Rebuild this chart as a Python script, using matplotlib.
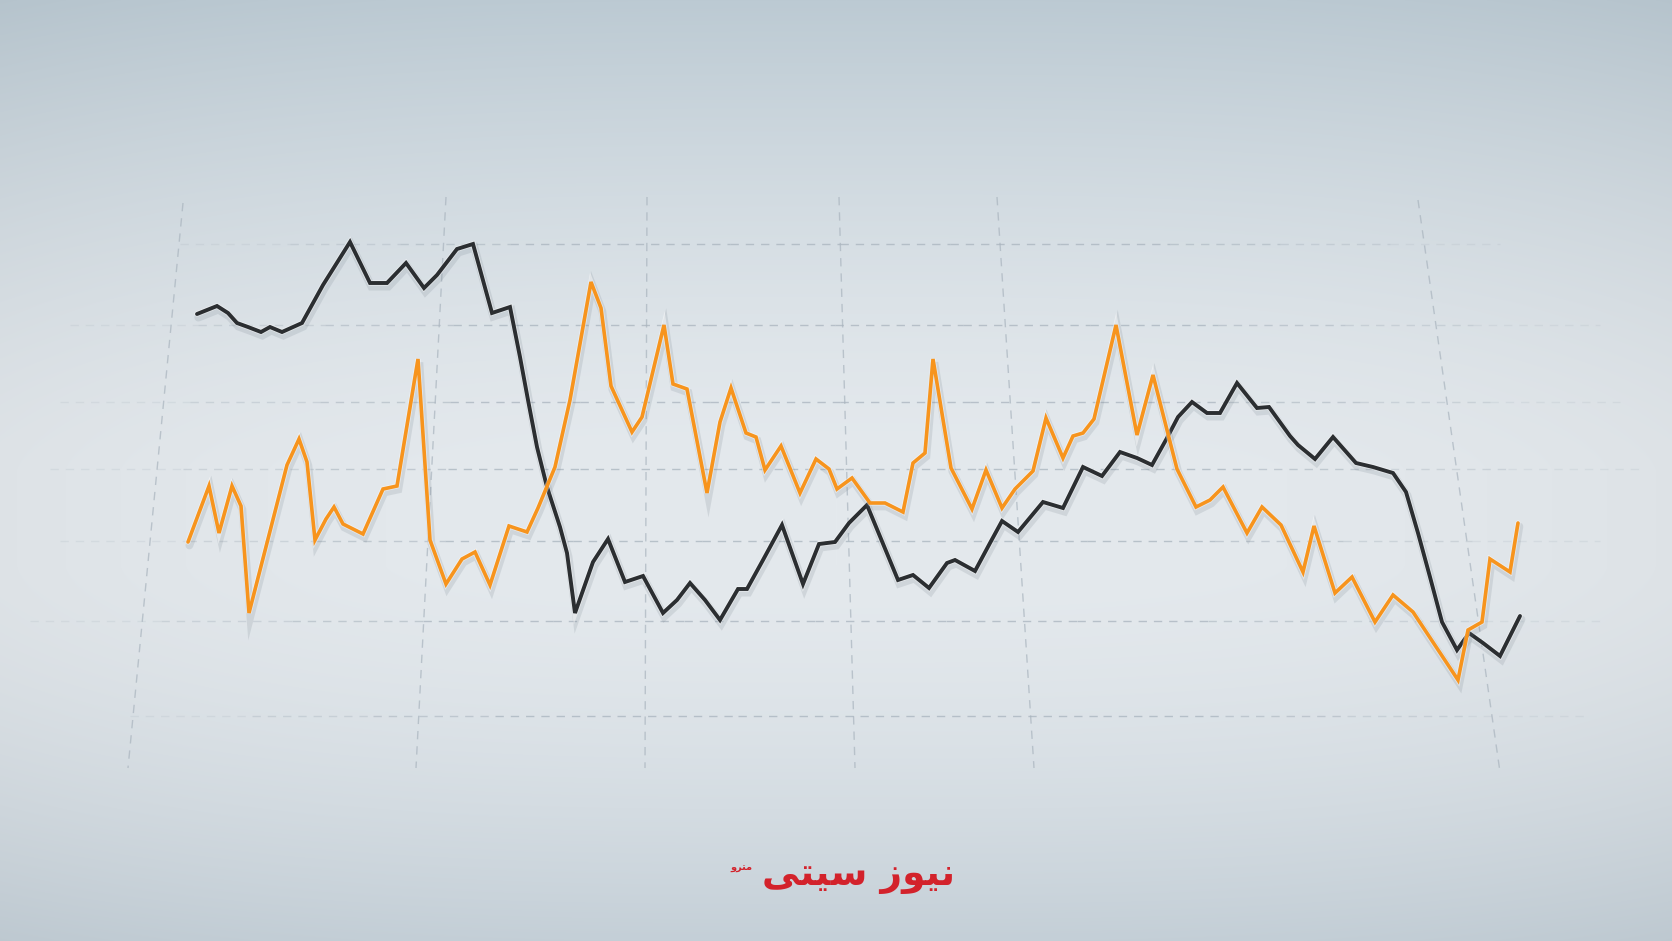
import numpy as np
import matplotlib
matplotlib.use("Agg")
import matplotlib.pyplot as plt
import matplotlib.patheffects as pe

# ---------------- data ----------------
black_x = [1.7, 3.7, 4.8, 5.7, 6.8, 8.1, 9.0, 10.2, 12.2, 14.3, 17.0, 19.0, 20.7, 22.6,
           24.4, 25.7, 27.7, 29.3, 31.2, 33.0, 34.0, 34.8, 35.7, 36.7, 38.0, 38.7, 39.5,
           41.3, 42.8, 44.5, 46.3, 48.3, 49.7, 51.0, 52.5, 54.0, 55.8, 56.7, 58.3, 60.2,
           62.3, 63.9, 65.5, 66.9, 68.7, 71.8, 73.3, 74.9, 76.7, 77.5, 79.5, 81.0, 82.2,
           83.8, 86.3, 88.3, 90.3, 92.2, 94.0, 95.7, 97.2, 98.7, 99.8, 101.2, 102.7,
           104.0, 105.7, 107.7, 108.9, 111.0, 111.8, 113.5, 115.3, 117.6, 119.3, 121.3,
           122.6, 123.8, 125.0, 126.2, 127.7, 128.9, 130.3, 132.0, 134.0]
black_y = [62.7, 63.5, 62.8, 61.8, 61.4, 60.9, 61.4, 60.9, 61.8, 65.6, 69.9, 65.8, 65.8, 67.8,
           65.3, 66.6, 69.2, 69.7, 62.8, 63.4, 58.4, 54.1, 49.4, 45.4, 41.4, 38.8, 32.8,
           37.9, 40.2, 35.9, 36.5, 32.8, 34.1, 35.8, 34.1, 32.1, 35.2, 35.2, 38.1, 41.6,
           35.7, 39.7, 39.9, 41.8, 43.6, 36.1, 36.6, 35.3, 37.8, 38.1, 37.0, 39.8, 42.0,
           40.9, 43.9, 43.3, 47.4, 46.5, 48.9, 48.3, 47.6, 50.3, 52.4, 53.9, 52.8,
           52.8, 55.8, 53.3, 53.4, 50.5, 49.6, 48.2, 50.4, 47.8, 47.4, 46.8,
           44.9, 40.8, 36.4, 31.9, 29.1, 30.8, 29.8, 28.5, 32.5]

orange_x = [0.8, 2.9, 3.9, 5.2, 6.1, 6.9, 10.7, 11.9, 12.7, 13.5, 14.6, 15.4, 16.3, 18.3,
            20.3, 21.7, 23.8, 25.0, 26.6, 28.2, 29.5, 31.0, 32.9, 34.7, 35.8, 37.5, 39.0,
            41.1, 42.1, 43.1, 45.2, 46.2, 48.4, 49.3, 50.7, 52.7, 54.0, 55.1, 56.6, 57.6,
            58.5, 60.1, 62.0, 63.6, 64.9, 65.7, 67.2, 69.0, 70.5, 72.3, 73.3, 74.5, 75.3,
            77.1, 79.2, 80.6, 82.2, 83.5, 85.3, 86.6, 88.3, 89.3, 90.3, 91.4, 93.6, 95.7,
            97.3, 98.7, 99.7, 101.6, 103.0, 104.3, 106.7, 108.2, 110.1, 112.3, 113.4,
            115.5, 117.2, 119.5, 121.3, 123.3, 127.8, 128.8, 130.2, 131.0, 133.0, 133.8]
orange_y = [39.9, 45.5, 40.8, 45.5, 43.5, 32.8, 47.6, 50.2, 47.9, 40.1, 42.2, 43.4, 41.7, 40.7,
            45.2, 45.5, 58.2, 40.1, 35.7, 38.2, 38.9, 35.6, 41.5, 40.9, 43.3, 47.4, 54.1,
            65.9, 63.3, 55.5, 50.9, 52.4, 61.6, 55.7, 55.2, 44.8, 51.9, 55.3, 50.8, 50.4,
            47.1, 49.5, 44.8, 48.2, 47.2, 45.2, 46.3, 43.8, 43.8, 42.9, 47.8, 48.8, 58.2,
            47.3, 43.2, 47.1, 43.3, 45.2, 47.0, 52.3, 48.3, 50.5, 50.8, 52.2, 61.6, 50.6,
            56.6, 51.1, 47.2, 43.4, 44.1, 45.4, 40.8, 43.4, 41.6, 36.9, 41.5,
            34.8, 36.4, 31.9, 34.6, 32.9, 26.1, 31.1, 31.9, 38.2, 36.9, 41.8]

# logo text (visual order, presentation forms)
logo_main = "\uFBFD\uFE98\uFBFF\uFEB3 \uFEAF\uFEEE\uFBFF\uFEE7"   # نیوز سیتی
logo_small = "\uFEED\uFEAE\uFE98\uFEE3"                           # مترو

W, H = 1672, 941
fig = plt.figure(figsize=(W / 100, H / 100), dpi=100)

# ---------------- background & perspective grid (pixel space) ----------------
deco = fig.add_axes([0, 0, 1, 1])
deco.set_xlim(0, W)
deco.set_ylim(H, 0)
deco.axis("off")

yy, xx = np.mgrid[0:H, 0:W]
ny = yy / H
nx = (xx - W / 2) / (W / 2)
top = np.array([188, 202, 211]) / 255.0
mid = np.array([228, 233, 237]) / 255.0
bot = np.array([196, 207, 215]) / 255.0
t_top = np.clip((0.50 - ny) / 0.50, 0, 1) ** 1.5
t_bot = np.clip((ny - 0.60) / 0.40, 0, 1) ** 1.6
col = mid[None, None, :] * np.ones((H, W, 1))
col = col * (1 - t_top[..., None]) + top[None, None, :] * t_top[..., None]
col = col * (1 - t_bot[..., None]) + bot[None, None, :] * t_bot[..., None]
v = np.clip(np.abs(nx) ** 3 * 0.025, 0, 0.025)
col = col - v[..., None]
deco.imshow(np.clip(col, 0, 1), extent=(0, W, H, 0), aspect="auto", zorder=0,
            interpolation="bilinear")

gcol = "#a9b4be"
hlines = [(244, 180, 1500), (325, 70, 1600), (402, 60, 1620), (469, 50, 1640),
          (541, 60, 1600), (621, 30, 1600), (716, 130, 1590)]
for y, x0, x1 in hlines:
    # fade towards both ends
    xs = np.linspace(x0, x1, 13)
    for i in range(12):
        c = (i + 0.5) / 12
        a = 0.75 * min(1.0, 3.0 * min(c, 1 - c) + 0.15)
        deco.plot([xs[i], xs[i + 1]], [y, y], color=gcol, lw=1.0, ls=(0, (6, 5)),
                  alpha=a, zorder=1)
vlines = [((183, 203), (128, 768)), ((446, 197), (416, 768)), ((647, 197), (645, 768)),
          ((839, 197), (855, 768)), ((997, 197), (1034, 768)), ((1418, 200), (1500, 772))]
for (x0, y0), (x1, y1) in vlines:
    deco.plot([x0, x1], [y0, y1], color=gcol, lw=1.0, ls=(0, (6, 5)), alpha=0.7, zorder=1)

# logo
deco.text(955, 876, logo_main, family=["DejaVu Sans"], fontweight="bold", fontsize=27,
          color="#d3222b", ha="right", va="center", zorder=5)
deco.text(752, 868, logo_small, family=["DejaVu Sans"], fontweight="bold", fontsize=7,
          color="#d3222b", ha="right", va="center", zorder=5)

# ---------------- data axes ----------------
ax = fig.add_axes([0, 0, 1, 1])
ax.patch.set_alpha(0)
ax.set_xlim(-18, 149.2)
ax.set_ylim(0, 94.1)
ax.axis("off")

def effects(lw):
    return [pe.SimpleLineShadow(offset=(1.0, -2.5), shadow_color="#6a7782", alpha=0.16,
                                linewidth=lw + 3.0),
            pe.Stroke(linewidth=lw + 1.2, foreground="white", alpha=0.45),
            pe.Normal()]

ax.plot(black_x, black_y, color="#2b2e31", lw=2.8, solid_joinstyle="miter",
        solid_capstyle="round", zorder=3, path_effects=effects(2.8))
ax.plot(orange_x, orange_y, color="#f7941d", lw=2.6, solid_joinstyle="miter",
        solid_capstyle="round", zorder=4, path_effects=effects(2.6))

fig.savefig("out.png", dpi=100)
